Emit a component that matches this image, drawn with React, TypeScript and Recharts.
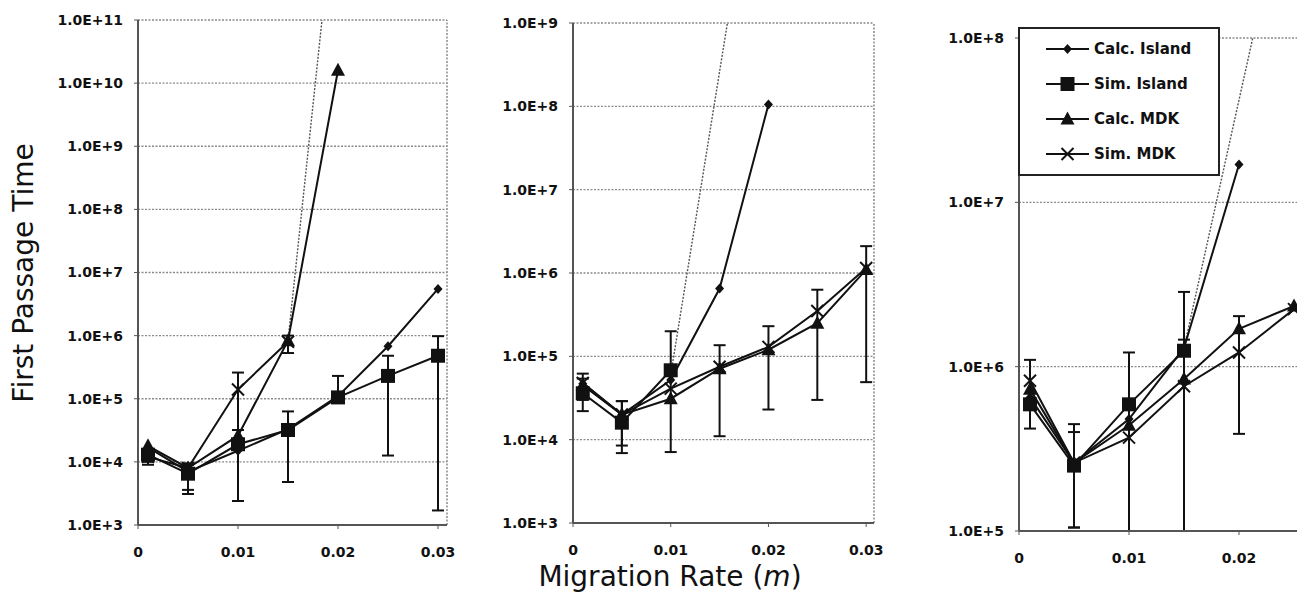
import React from 'react';
import { LineChart, Line, XAxis, YAxis, CartesianGrid, ErrorBar, ReferenceLine } from 'recharts';

// migration rates used in every panel
const rates = [0.001, 0.005, 0.01, 0.015, 0.02, 0.025, 0.03];
const xTicks = [0, 0.01, 0.02, 0.03];
const xTicksCut = [0, 0.01, 0.02];

// left panel
const aCalcIsland = [1.7e4, 7.0e3, 1.5e4, 3.3e4, 1.1e5, 6.8e5, 5.5e6];
const aSimIsland = [1.3e4, 6.5e3, 1.9e4, 3.2e4, 1.05e5, 2.3e5, 4.8e5];
const aSimIslandLow = [9.0e3, 3.1e3, 2.4e3, 4.8e3, 9.0e4, 1.26e4, 1.7e3];
const aSimIslandHigh = [1.6e4, 9.0e3, 3.2e4, 6.3e4, 2.3e5, 4.8e5, 9.8e5];
const aCalcMdk = [1.8e4, 8.0e3, 2.6e4, 8.3e5, 1.6e10];
const aSimMdk = [1.2e4, 8.0e3, 1.4e5, 8.0e5];
const aSimMdkLow = [1.0e4, 3.6e3, 3.2e4, 5.3e5];
const aSimMdkHigh = [1.4e4, 9.5e3, 2.6e5, 1.0e6];
const aTrendX = [0.015, 0.0184];
const aTrendY = [8.3e5, 1e11];
const aYTicks = [1e3, 1e4, 1e5, 1e6, 1e7, 1e8, 1e9, 1e10, 1e11];

// middle panel
const bCalcIsland = [4.7e4, 2.0e4, 5.2e4, 6.5e5, 1.05e8];
const bSimIsland = [3.6e4, 1.6e4, 6.8e4];
const bSimIslandLow = [2.2e4, 6.9e3, 7.1e3];
const bSimIslandHigh = [5.4e4, 2.9e4, 2.0e5];
const bCalcMdk = [4.5e4, 2.0e4, 3.1e4, 7.1e4, 1.2e5, 2.5e5, 1.1e6];
const bSimMdk = [4.8e4, 2.0e4, 4.1e4, 7.5e4, 1.3e5, 3.5e5, 1.15e6];
const bSimMdkLow = [3.0e4, 8.5e3, null, 1.1e4, 2.3e4, 3.0e4, 4.9e4];
const bSimMdkHigh = [6.2e4, 2.9e4, null, 1.36e5, 2.3e5, 6.3e5, 2.1e6];
const bTrendX = [0.01, 0.0158];
const bTrendY = [6.0e4, 1e9];
const bYTicks = [1e3, 1e4, 1e5, 1e6, 1e7, 1e8, 1e9];

// right panel
const cCalcIsland = [6.5e5, 2.6e5, 4.8e5, 1.3e6, 1.7e7];
const cSimIsland = [5.9e5, 2.5e5, 5.9e5, 1.25e6];
const cSimIslandLow = [null, 1.05e5, null, 1.0e5];
const cSimIslandHigh = [null, 4.47e5, null, 2.85e6];
const cCalcMdk = [7.3e5, 2.6e5, 4.4e5, 8.4e5, 1.7e6, 2.34e6];
const cSimMdk = [8.2e5, 2.6e5, 3.7e5, 7.6e5, 1.22e6, 2.24e6];
const cSimMdkLow = [4.2e5, 1.05e5, 1.0e5, 1.0e5, 3.9e5, null];
const cSimMdkHigh = [1.1e6, 4.0e5, 1.22e6, 1.46e6, 2.03e6, null];
const cTrendX = [0.015, 0.02125];
const cTrendY = [1.3e6, 1e8];
const cYTicks = [1e5, 1e6, 1e7, 1e8];

const legendNames = ['Calc. Island', 'Sim. Island', 'Calc. MDK', 'Sim. MDK'];

const FONT = '"DejaVu Sans", Verdana, sans-serif';
const INK = '#111';

type Pt = { x: number; y: number; err: number[] | null };

const toSeries = (ys: number[], lows?: (number | null)[], highs?: (number | null)[]): Pt[] =>
  ys.map((y, i) => {
    const lo = lows ? lows[i] : null;
    const hi = highs ? highs[i] : null;
    return { x: rates[i], y, err: lo != null && hi != null ? [y - lo, hi - y] : null };
  });

const toTrend = (xs: number[], ys: number[]): Pt[] => xs.map((x, i) => ({ x, y: ys[i], err: null }));

const Marker = ({ kind, cx, cy }: { kind: number; cx: number; cy: number }) => {
  if (kind === 0)
    return <polygon points={`${cx},${cy - 5} ${cx + 4.5},${cy} ${cx},${cy + 5} ${cx - 4.5},${cy}`} fill={INK} />;
  if (kind === 1) return <rect x={cx - 7} y={cy - 7} width={14} height={14} fill={INK} />;
  if (kind === 2)
    return <polygon points={`${cx},${cy - 7.5} ${cx + 7},${cy + 5.5} ${cx - 7},${cy + 5.5}`} fill={INK} />;
  return (
    <g stroke={INK} strokeWidth={2}>
      <line x1={cx - 6} y1={cy - 6} x2={cx + 6} y2={cy + 6} />
      <line x1={cx - 6} y1={cy + 6} x2={cx + 6} y2={cy - 6} />
    </g>
  );
};

const dotFor = (kind: number) => (p: any) => {
  if (p.cx == null || p.cy == null) return <g key={`e-${kind}-${p.index}`} />;
  return (
    <g key={`m-${kind}-${p.index}`}>
      <Marker kind={kind} cx={p.cx} cy={p.cy} />
    </g>
  );
};

const expLabel = (v: number) => v.toExponential(1).toUpperCase();

interface PanelProps {
  left: number;
  width: number;
  axisW: number;
  top: number;
  bottom: number;
  right: number;
  xMax: number;
  ticks: number[];
  yDomain: [number, number];
  yTicks: number[];
  series: Pt[][];
  trend: Pt[];
}

const Panel: React.FC<PanelProps> = ({ left, width, axisW, top, bottom, right, xMax, ticks, yDomain, yTicks, series, trend }) => (
  <div style={{ position: 'absolute', left, top: 0 }}>
    <LineChart width={width} height={594} margin={{ top, right, bottom, left: 0 }}>
      <CartesianGrid vertical={false} stroke="#8a8a8a" strokeDasharray="2 1.5" strokeWidth={1.3} />
      <XAxis
        dataKey="x"
        type="number"
        domain={[0, xMax]}
        ticks={ticks}
        interval={0}
        allowDataOverflow
        height={30}
        tickSize={4}
        tickMargin={18}
        axisLine={{ stroke: '#555', strokeWidth: 2 }}
        tickLine={{ stroke: '#555' }}
        tick={{ fontSize: 14, fontWeight: 'bold', fill: INK, fontFamily: FONT }}
      />
      <YAxis
        type="number"
        scale="log"
        domain={yDomain}
        ticks={yTicks}
        interval={0}
        allowDataOverflow
        width={axisW}
        tickSize={4}
        tickMargin={11}
        tickFormatter={expLabel}
        axisLine={{ stroke: '#555', strokeWidth: 2 }}
        tickLine={{ stroke: '#555' }}
        tick={{ fontSize: 14, fontWeight: 'bold', fill: INK, fontFamily: FONT }}
      />
      <ReferenceLine x={xMax} stroke="#8a8a8a" strokeDasharray="2 1.5" strokeWidth={1.5} />
      <Line
        data={trend}
        dataKey="y"
        type="linear"
        stroke="#555"
        strokeWidth={1.4}
        strokeDasharray="2 1.5"
        dot={false}
        activeDot={false}
        isAnimationActive={false}
      />
      {series.map((s, k) => (
        <Line
          key={legendNames[k]}
          name={legendNames[k]}
          data={s}
          dataKey="y"
          type="linear"
          stroke={INK}
          strokeWidth={2}
          dot={dotFor(k)}
          activeDot={false}
          isAnimationActive={false}
        >
          {s.some((p) => p.err) && (
            <ErrorBar dataKey="err" direction="y" width={6} strokeWidth={2} stroke={INK} />
          )}
        </Line>
      ))}
    </LineChart>
  </div>
);

const LegendBox = () => (
  <div
    style={{
      position: 'absolute',
      left: 1018,
      top: 27,
      width: 198,
      height: 145,
      border: '2px solid #222',
      background: '#fff',
      fontFamily: FONT,
      fontWeight: 'bold',
      fontSize: 15,
      color: INK,
    }}
  >
    {legendNames.map((n, k) => (
      <div
        key={n}
        style={{ position: 'absolute', left: 26, top: 10 + k * 35, height: 20, display: 'flex', alignItems: 'center' }}
      >
        <svg width={44} height={20} style={{ display: 'block' }}>
          <line x1={0} y1={10} x2={43} y2={10} stroke={INK} strokeWidth={2} />
          <Marker kind={k} cx={21.5} cy={10} />
        </svg>
        <span style={{ marginLeft: 4, whiteSpace: 'nowrap' }}>{n}</span>
      </div>
    ))}
  </div>
);

export default function App() {
  return (
    <div
      style={{
        position: 'absolute',
        left: 0,
        top: 0,
        width: 1297,
        height: 594,
        overflow: 'hidden',
        background: '#fff',
        fontFamily: FONT,
      }}
    >
      <Panel
        left={0}
        width={460}
        axisW={138}
        top={20}
        bottom={39}
        right={13}
        xMax={0.0309}
        ticks={xTicks}
        yDomain={[1e3, 1e11]}
        yTicks={aYTicks}
        series={[
          toSeries(aCalcIsland),
          toSeries(aSimIsland, aSimIslandLow, aSimIslandHigh),
          toSeries(aCalcMdk),
          toSeries(aSimMdk, aSimMdkLow, aSimMdkHigh),
        ]}
        trend={toTrend(aTrendX, aTrendY)}
      />
      <Panel
        left={440}
        width={450}
        axisW={133}
        top={23}
        bottom={41}
        right={16}
        xMax={0.0308}
        ticks={xTicks}
        yDomain={[1e3, 1e9]}
        yTicks={bYTicks}
        series={[
          toSeries(bCalcIsland),
          toSeries(bSimIsland, bSimIslandLow, bSimIslandHigh),
          toSeries(bCalcMdk),
          toSeries(bSimMdk, bSimMdkLow, bSimMdkHigh),
        ]}
        trend={toTrend(bTrendX, bTrendY)}
      />
      <Panel
        left={880}
        width={500}
        axisW={139}
        top={38}
        bottom={33}
        right={20}
        xMax={0.031}
        ticks={xTicksCut}
        yDomain={[1e5, 1e8]}
        yTicks={cYTicks}
        series={[
          toSeries(cCalcIsland),
          toSeries(cSimIsland, cSimIslandLow, cSimIslandHigh),
          toSeries(cCalcMdk),
          toSeries(cSimMdk, cSimMdkLow, cSimMdkHigh),
        ]}
        trend={toTrend(cTrendX, cTrendY)}
      />
      <LegendBox />
      <div
        style={{
          position: 'absolute',
          left: 23,
          top: 273,
          transform: 'translate(-50%, -50%) rotate(-90deg)',
          whiteSpace: 'nowrap',
          fontSize: 28,
          color: INK,
        }}
      >
        First Passage Time
      </div>
      <div
        style={{
          position: 'absolute',
          left: 470,
          top: 560,
          width: 400,
          height: 34,
          lineHeight: '34px',
          textAlign: 'center',
          fontSize: 28,
          color: INK,
          whiteSpace: 'nowrap',
        }}
      >
        Migration Rate (<i>m</i>)
      </div>
    </div>
  );
}
